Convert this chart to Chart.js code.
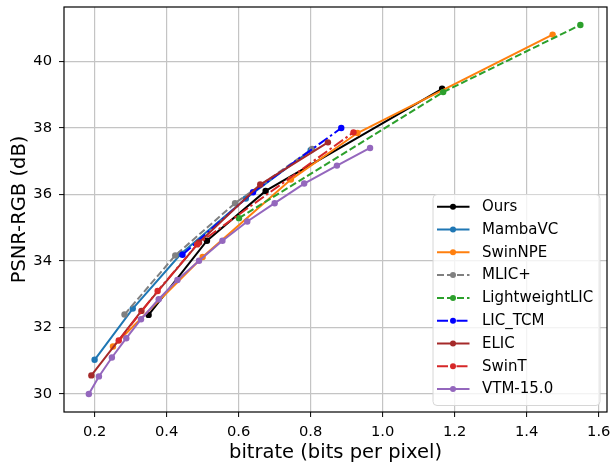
<!DOCTYPE html>
<html>
<head>
<meta charset="utf-8">
<script src="https://cdn.jsdelivr.net/npm/chart.js@4.4.0/dist/chart.umd.min.js"></script>
<style>
  html, body { margin: 0; padding: 0; background: #fff; }
  canvas { display: block; }
</style>
</head>
<body>
<canvas id="rdChart" width="611" height="465" style="width:611px;height:465px"></canvas>
<script>
// rate-distortion points (bpp, PSNR dB)
const OURS_BPP = [0.350, 0.512, 0.675, 1.165];
const OURS_PSNR = [32.38, 34.61, 36.11, 39.18];

const MAMBAVC_BPP = [0.200, 0.306, 0.440, 0.620, 0.800];
const MAMBAVC_PSNR = [31.03, 32.57, 34.22, 35.88, 37.33];

const SWINNPE_BPP = [0.251, 0.500, 0.745, 0.930, 1.472];
const SWINNPE_PSNR = [31.43, 34.12, 36.45, 37.85, 40.81];

const MLIC_BPP = [0.283, 0.424, 0.590, 0.804];
const MLIC_PSNR = [32.39, 34.17, 35.74, 37.37];

const LWLIC_BPP = [0.601, 1.168, 1.549];
const LWLIC_PSNR = [35.29, 39.08, 41.10];

const TCM_BPP = [0.444, 0.640, 0.885];
const TCM_PSNR = [34.19, 36.07, 38.00];

const ELIC_BPP = [0.191, 0.330, 0.490, 0.660, 0.848];
const ELIC_PSNR = [30.56, 32.50, 34.56, 36.30, 37.57];

const SWINT_BPP = [0.267, 0.375, 0.485, 0.919];
const SWINT_PSNR = [31.61, 33.10, 34.50, 37.87];

const VTM_BPP = [0.184, 0.212, 0.248, 0.288, 0.329, 0.378, 0.430, 0.490, 0.555, 0.624, 0.700, 0.782, 0.873, 0.965];
const VTM_PSNR = [30.00, 30.53, 31.10, 31.68, 32.25, 32.85, 33.43, 34.01, 34.61, 35.19, 35.74, 36.33, 36.87, 37.40];

const X_TICKS = [0.2, 0.4, 0.6, 0.8, 1.0, 1.2, 1.4, 1.6];
const Y_TICKS = [30, 32, 34, 36, 38, 40];

const FONT = 'DejaVu Sans';
const DASHED = [7, 3];
const DASHDOT = [11, 3, 2.5, 3];

const toPoints = (xs, ys) => xs.map((x, i) => ({ x: x, y: ys[i] }));

const series = [
  { label: 'Ours', bpp: OURS_BPP, psnr: OURS_PSNR, color: '#000000', dash: [] },
  { label: 'MambaVC', bpp: MAMBAVC_BPP, psnr: MAMBAVC_PSNR, color: '#1f77b4', dash: [] },
  { label: 'SwinNPE', bpp: SWINNPE_BPP, psnr: SWINNPE_PSNR, color: '#ff7f0e', dash: [] },
  { label: 'MLIC+', bpp: MLIC_BPP, psnr: MLIC_PSNR, color: '#808080', dash: DASHED },
  { label: 'LightweightLIC', bpp: LWLIC_BPP, psnr: LWLIC_PSNR, color: '#2ca02c', dash: DASHED },
  { label: 'LIC_TCM', bpp: TCM_BPP, psnr: TCM_PSNR, color: '#0000ff', dash: DASHDOT },
  { label: 'ELIC', bpp: ELIC_BPP, psnr: ELIC_PSNR, color: '#a52a2a', dash: [] },
  { label: 'SwinT', bpp: SWINT_BPP, psnr: SWINT_PSNR, color: '#d62728', dash: DASHDOT },
  { label: 'VTM-15.0', bpp: VTM_BPP, psnr: VTM_PSNR, color: '#9467bd', dash: [] },
];

const datasets = series.map((s, i) => ({
  label: s.label,
  data: toPoints(s.bpp, s.psnr),
  borderColor: s.color,
  backgroundColor: s.color,
  borderWidth: 2,
  borderDash: s.dash,
  pointRadius: 3.2,
  pointBorderWidth: 0,
  pointBackgroundColor: s.color,
  tension: 0,
  order: series.length - i, // first series drawn first, like matplotlib
}));

// black box round the plot area
const frame = {
  id: 'frame',
  afterDatasetsDraw(chart) {
    const { ctx, chartArea: a } = chart;
    ctx.save();
    ctx.strokeStyle = '#000';
    ctx.lineWidth = 1.2;
    ctx.strokeRect(a.left, a.top, a.right - a.left, a.bottom - a.top);
    ctx.restore();
  }
};

// matplotlib-style legend: line sample with marker
const legendBox = {
  id: 'legendBox',
  afterDraw(chart) {
    const ctx = chart.ctx;
    const x0 = 433, y0 = 194.5, w = 167, h = 211;
    ctx.save();
    ctx.beginPath();
    ctx.roundRect(x0, y0, w, h, 4);
    ctx.fillStyle = 'rgba(255,255,255,0.8)';
    ctx.fill();
    ctx.strokeStyle = '#d6d6d6';
    ctx.lineWidth = 1;
    ctx.stroke();
    chart.data.datasets.forEach((ds, i) => {
      const y = 206.7 + i * 22.8;
      ctx.setLineDash(ds.borderDash);
      ctx.strokeStyle = ds.borderColor;
      ctx.lineWidth = ds.borderWidth;
      ctx.beginPath();
      ctx.moveTo(437, y);
      ctx.lineTo(469.5, y);
      ctx.stroke();
      ctx.setLineDash([]);
      ctx.fillStyle = ds.borderColor;
      ctx.beginPath();
      ctx.arc(453, y, 3, 0, Math.PI * 2);
      ctx.fill();
      ctx.fillStyle = '#000';
      ctx.font = '15px "' + FONT + '"';
      ctx.textBaseline = 'middle';
      ctx.textAlign = 'left';
      ctx.fillText(ds.label, 482, y + 0.5);
    });
    ctx.restore();
  }
};

const gridOpts = {
  color: '#c4c4c4',
  lineWidth: 1.2,
  tickColor: '#000',
  tickWidth: 1,
  tickLength: 5,
  drawTicks: true,
};

new Chart(document.getElementById('rdChart'), {
  type: 'line',
  data: { datasets: datasets },
  options: {
    responsive: false,
    animation: false,
    layout: { padding: { top: 7, right: 3, left: 0, bottom: 0 } },
    plugins: {
      legend: { display: false },
      tooltip: { enabled: false },
    },
    scales: {
      x: {
        type: 'linear',
        min: 0.115,
        max: 1.623,
        afterBuildTicks: (scale) => { scale.ticks = X_TICKS.map(v => ({ value: v })); },
        afterFit: (scale) => {
          scale.height = 53;
          scale.paddingLeft = 0;
          scale.paddingRight = 0;
        },
        ticks: {
          callback: (v) => Number(v).toFixed(1),
          font: { family: FONT, size: 14.7 },
          color: '#000',
          padding: 6,
          autoSkip: false,
          maxRotation: 0,
        },
        grid: gridOpts,
        border: { display: false },
        title: {
          display: true,
          text: 'bitrate (bits per pixel)',
          font: { family: FONT, size: 19.5 },
          color: '#000',
          padding: { top: 0, bottom: 0 },
        },
      },
      y: {
        type: 'linear',
        min: 29.46,
        max: 41.64,
        afterBuildTicks: (scale) => { scale.ticks = Y_TICKS.map(v => ({ value: v })); },
        afterFit: (scale) => {
          scale.width = 64;
          scale.paddingTop = 0;
          scale.paddingBottom = 0;
        },
        ticks: {
          callback: (v) => String(v),
          font: { family: FONT, size: 14.7 },
          color: '#000',
          padding: 7,
          autoSkip: false,
        },
        grid: gridOpts,
        border: { display: false },
        title: {
          display: true,
          text: 'PSNR-RGB (dB)',
          font: { family: FONT, size: 19.5 },
          color: '#000',
          padding: { top: 8, bottom: 0 },
        },
      },
    },
  },
  plugins: [frame, legendBox],
});
</script>
</body>
</html>
